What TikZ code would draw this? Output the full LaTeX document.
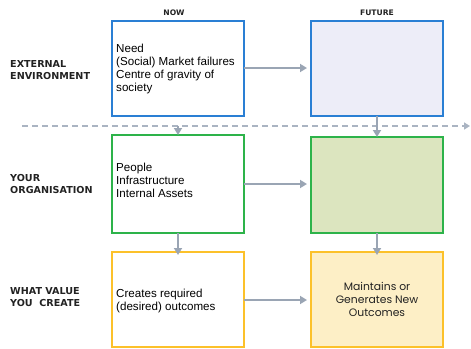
\documentclass[tikz,border=0pt]{standalone}
\usepackage{fontspec}
\setmainfont{Liberation Sans}
\newfontfamily\geo{Poppins}
\newfontfamily\labfont{DejaVu Sans}
\usetikzlibrary{arrows.meta}
\definecolor{bblue}{HTML}{2A7FD4}
\definecolor{fblue}{HTML}{EDEDF8}
\definecolor{bgreen}{HTML}{2DB34A}
\definecolor{fgreen}{HTML}{DCE5BF}
\definecolor{byellow}{HTML}{FCC12A}
\definecolor{fyellow}{HTML}{FDEFC6}
\definecolor{agray}{HTML}{9AA5B4}
\definecolor{dgray}{HTML}{AAB4C2}
\definecolor{labtext}{HTML}{222222}
\tikzset{
  box/.style={draw, line width=1.8pt, minimum width=131pt, inner sep=0pt},
  txt/.style={align=left, font=\fontsize{11.6}{13}\selectfont, inner sep=0pt, anchor=west},
  lab/.style={align=left, text=labtext, font=\labfont\bfseries\fontsize{9.6}{12.8}\selectfont, inner sep=0pt, anchor=west},
  hd/.style={text=labtext, font=\labfont\bfseries\fontsize{7.6}{8}\selectfont, inner sep=0pt},
  arr/.style={draw=agray, line width=1.8pt, -{Triangle[length=7pt,width=8pt]}},
}
\begin{document}
\begin{tikzpicture}[x=1pt,y=-1pt]
\useasboundingbox (0,0) rectangle (471,348);
% headers
\node[hd] (now) at (174,13) {NOW};
\node[hd] (fut) at (377,13) {FUTURE};
% boxes
\draw[box,bblue,fill=white] (112,21) rectangle (244,116);
\coordinate (e1w) at (112,68); \coordinate (e1e) at (244,68);
\draw[box,bblue,fill=fblue] (311,21) rectangle (443,116);
\coordinate (e2w) at (311,68); \coordinate (e2s) at (377,116);
\draw[box,bgreen,fill=white] (112,135) rectangle (244,233);
\coordinate (g1n) at (178,135); \coordinate (g1e) at (244,184); \coordinate (g1s) at (178,233);
\draw[box,bgreen,fill=fgreen] (311,137) rectangle (443,233);
\coordinate (g2n) at (377,137); \coordinate (g2w) at (311,184); \coordinate (g2s) at (377,233);
\draw[box,byellow,fill=white] (112,252) rectangle (244,347);
\coordinate (y1n) at (178,252); \coordinate (y1e) at (244,300);
\draw[box,byellow,fill=fyellow] (311,252) rectangle (443,347);
\coordinate (y2n) at (377,252); \coordinate (y2w) at (311,300);
% texts
\node[txt] (t1) at (116,69) {Need\\(Social) Market failures\\Centre of gravity of\\society};
\node[txt] (t2) at (116,180) {People\\Infrastructure\\Internal Assets};
\node[txt] (t3) at (116,301) {Creates required\\(desired) outcomes};
\node[align=center, inner sep=0pt, text=labtext, font=\geo\fontsize{10.8}{13}\selectfont] (t4) at (377,299) {Maintains or\\Generates New\\Outcomes};
% row labels
\node[lab] (l1) at (10,70) {EXTERNAL\\ENVIRONMENT};
\node[lab] (l2) at (10,184) {YOUR\\ORGANISATION};
\node[lab] (l3) at (10,297) {WHAT VALUE\\YOU\ \ CREATE};
% dashed line
\coordinate (ds) at (22,126); \coordinate (de) at (470,126);
\coordinate (dl) at (178,126);
\draw[draw=dgray, line width=1.6pt, dash pattern=on 6pt off 4pt, -{Triangle[length=6pt,width=7pt]}] (ds) -- (de);
% arrows
\draw[arr] (e1e) -- ([xshift=-4pt]e2w);
\draw[arr] (g1e) -- ([xshift=-4pt]g2w);
\draw[arr] (y1e) -- ([xshift=-4pt]y2w);
\draw[arr] (dl) -- (g1n);
\draw[arr] (e2s) -- (g2n);
\draw[arr] (g1s) -- ([yshift=-3pt]y1n);
\draw[arr] (g2s) -- ([yshift=-3pt]y2n);
\end{tikzpicture}
\end{document}
